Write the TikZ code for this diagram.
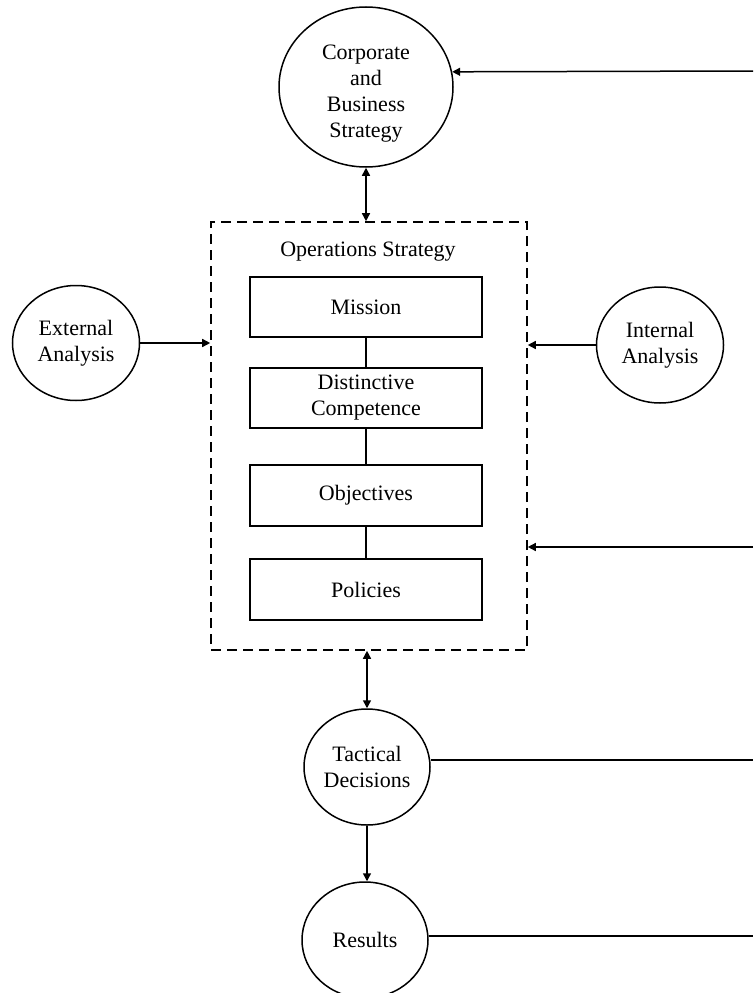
\documentclass[tikz,border=0pt]{standalone}
\usepackage{fontspec}
\setmainfont{Liberation Serif}
\usetikzlibrary{shapes.geometric,arrows.meta}
\begin{document}
\begin{tikzpicture}[x=1pt,y=-1pt,
  every node/.style={font=\fontsize{22}{26}\selectfont, align=center},
  oval/.style={draw, ellipse, inner sep=0pt, line width=1.5pt},
  stepbox/.style={draw, rectangle, inner sep=0pt, line width=1.5pt, minimum width=232pt, minimum height=60pt},
  frame/.style={draw, rectangle, dash pattern=on 10pt off 6pt, line width=1.6pt, inner sep=0pt},
  conn/.style={line width=1.5pt},
  arr/.style={conn, -{Triangle[length=8pt,width=8pt]}},
  darr/.style={conn, {Triangle[length=8pt,width=8pt]}-{Triangle[length=8pt,width=8pt]}}
]
\useasboundingbox (0,0) rectangle (753,993);
\clip (0,0) rectangle (753,993);

% main nodes
\node[oval, minimum width=174pt, minimum height=160pt] (corp) at (366,87) {};
\node (corptext) at (366,94) {Corporate\\and\\Business\\Strategy};

\node[frame, minimum width=316pt, minimum height=428pt] (ops) at (369,436) {};
\node (opslabel) at (368,252) {Operations Strategy};

\node[stepbox] (mission) at (366,307) {Mission};
\node[stepbox] (dist) at (366,398) {Distinctive\\Competence};
\node[stepbox, minimum height=61pt] (obj) at (366,495.5) {Objectives};
\node[stepbox, minimum height=61pt] (pol) at (366,589.5) {Policies};

\node[oval, minimum width=127pt, minimum height=115pt] (ext) at (76,343) {External\\Analysis};
\node[oval, minimum width=127pt, minimum height=116pt] (int) at (660,345) {Internal\\Analysis};

\node[oval, minimum width=126pt, minimum height=116pt] (tact) at (367,767) {Tactical\\Decisions};
\node[oval, minimum width=126pt, minimum height=116pt] (res) at (365,940) {Results};

% free ends at the right edge
\coordinate (rtop) at (753,71);
\coordinate (rmid) at (753,547);
\coordinate (rtact) at (753,760);
\coordinate (rres) at (753,936);

% connectors inside the frame
\draw[conn] (mission.south) -- (dist.north);
\draw[conn] (dist.south) -- (obj.north);
\draw[conn] (obj.south) -- (pol.north);

% arrows
\draw[arr] (rtop) -- (corp.10.6);
\draw[darr] (corp.south) -- (corp.south |- ops.north);
\draw[arr] (ext.east) -- (ext.east -| ops.west);
\draw[arr] (int.west) -- (int.west -| ops.east);
\draw[arr] (rmid) -- (rmid -| ops.east);
\draw[darr] (tact.north |- ops.south) -- (tact.north);
\draw[arr] (tact.south) -- (tact.south |- res.north);
\draw[conn] (rtact -| tact.east) -- (rtact);
\draw[conn] (rres -| res.east) -- (rres);
\end{tikzpicture}
\end{document}
